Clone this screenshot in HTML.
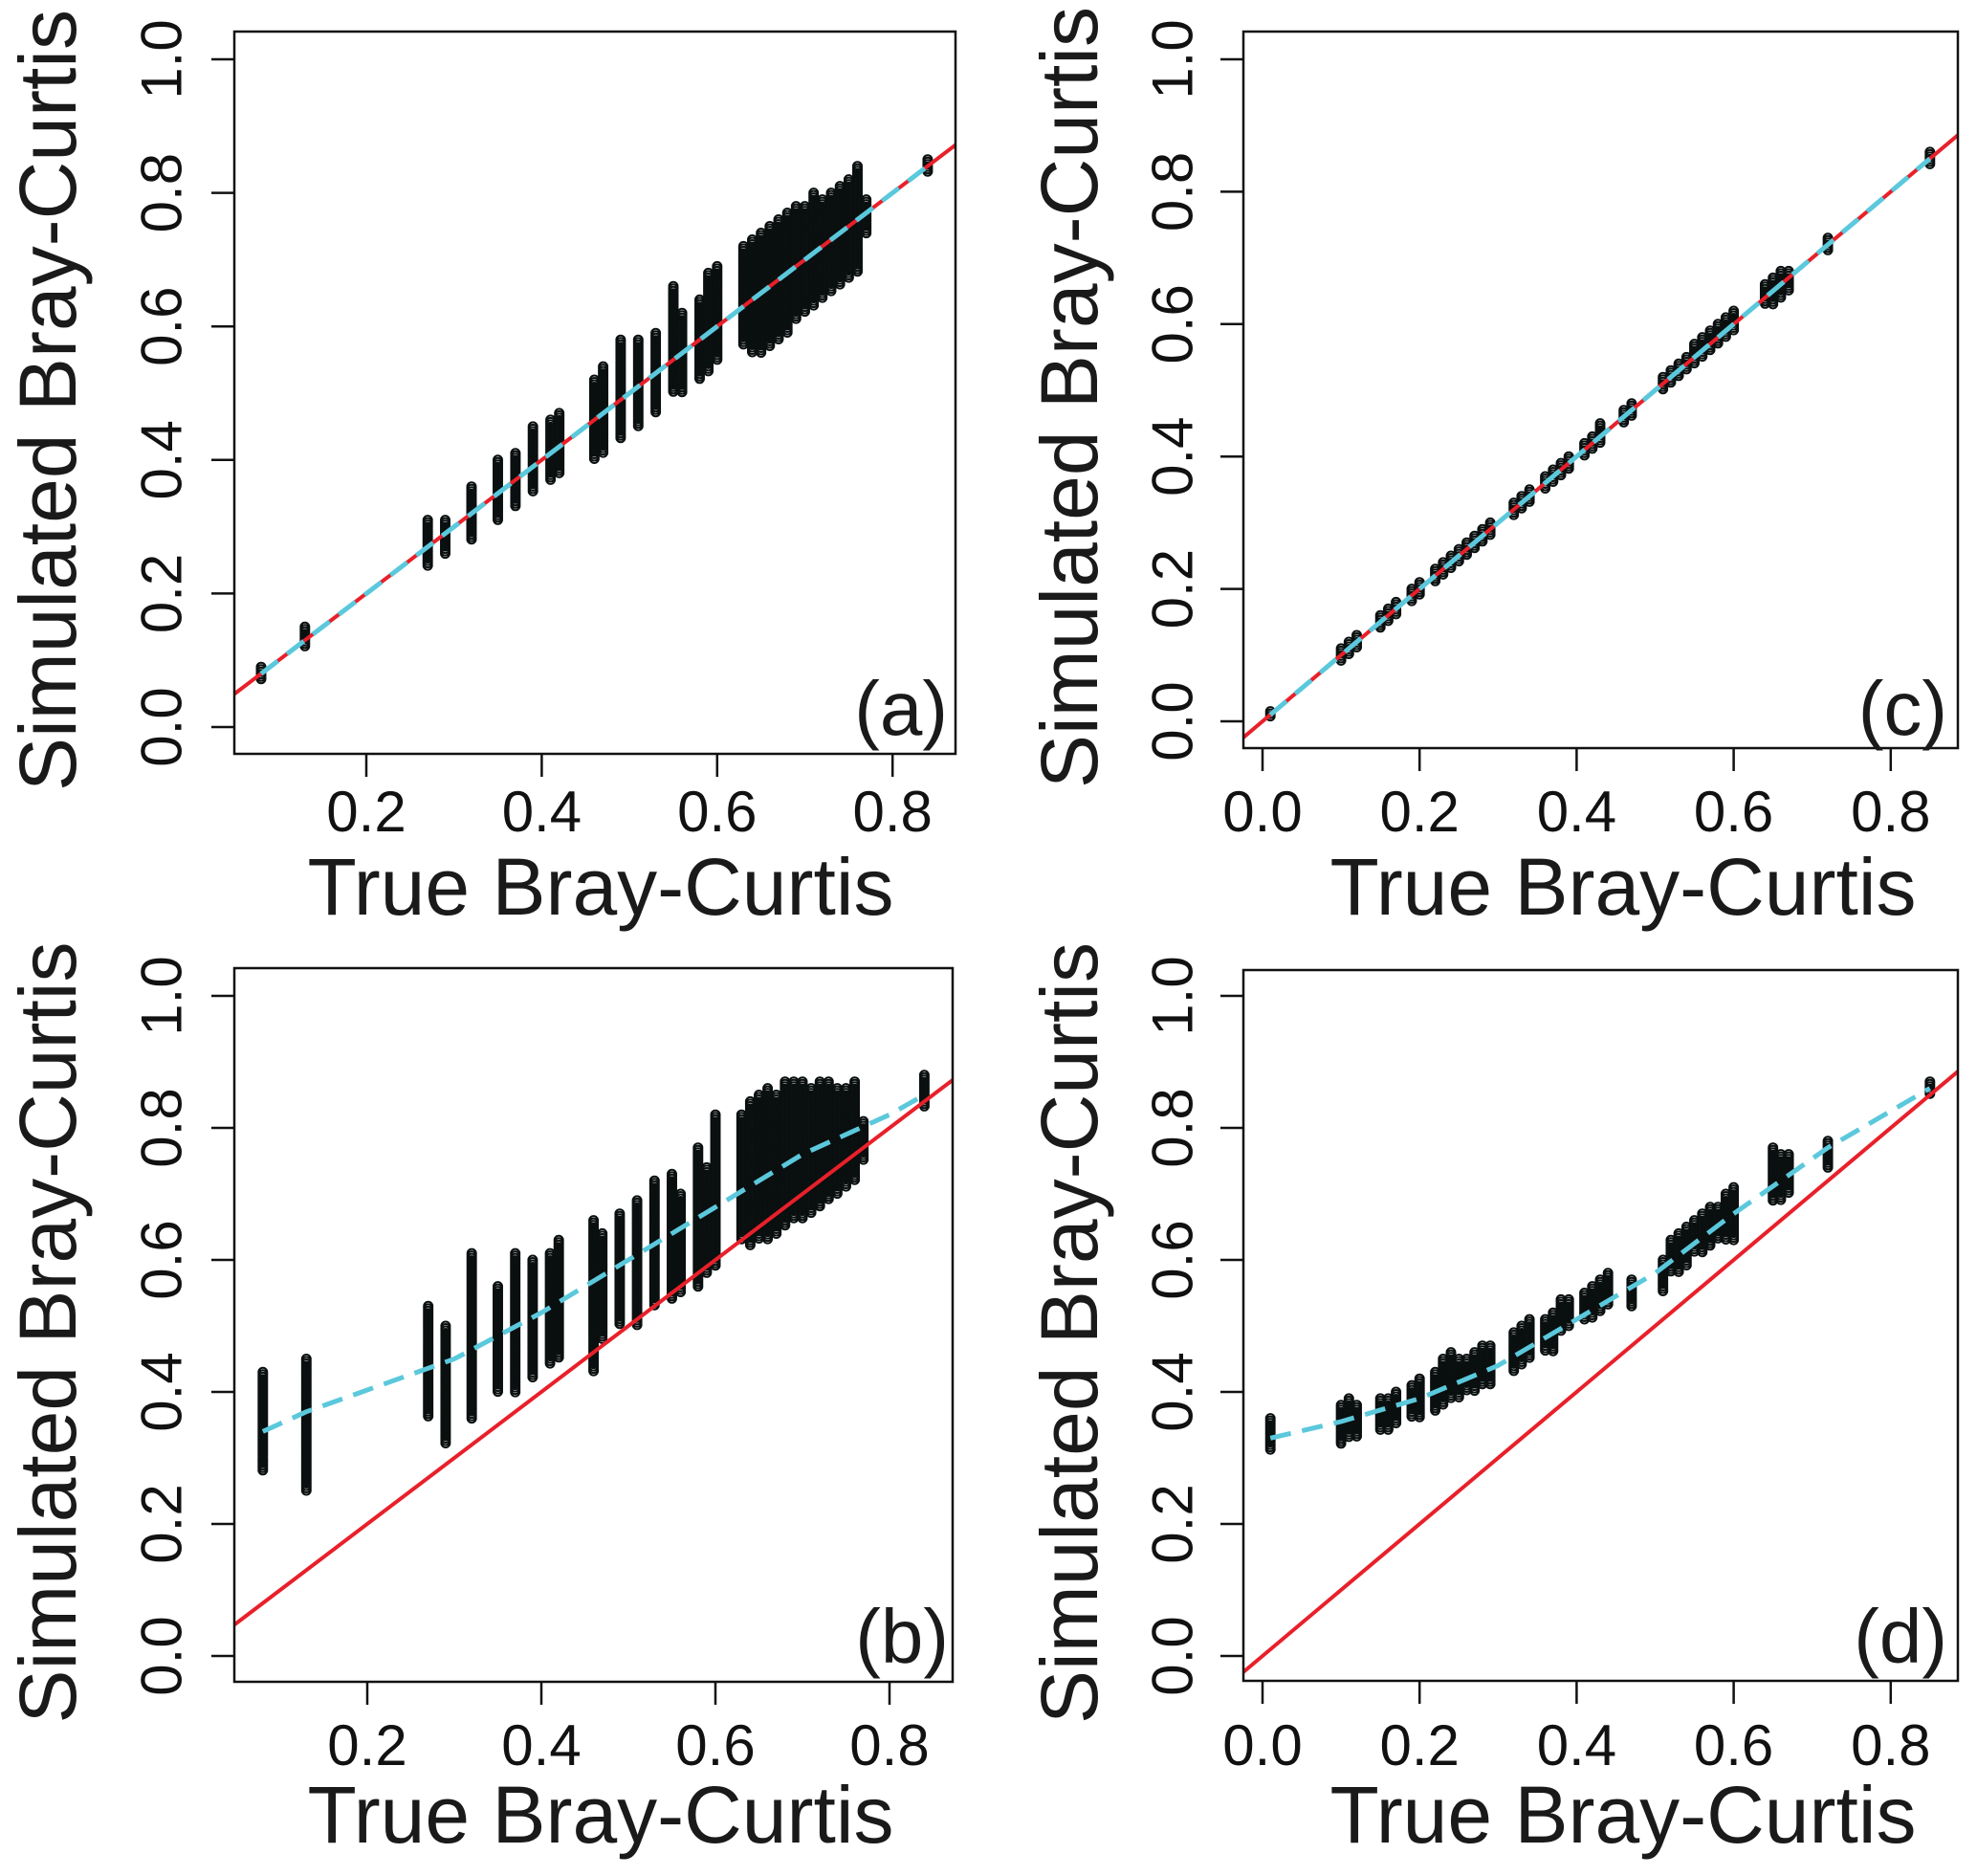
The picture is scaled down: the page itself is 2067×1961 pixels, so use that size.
<!DOCTYPE html>
<html><head><meta charset="utf-8"><style>
html,body{margin:0;padding:0;background:#fff;}
svg{display:block;font-family:"Liberation Sans",Arial,sans-serif;}
</style></head><body>
<svg id="fig" width="2067" height="1961" viewBox="0 0 2067 1961" xmlns="http://www.w3.org/2000/svg"></svg>
<script>
// ---- data ----
const yTicks = [0.0, 0.2, 0.4, 0.6, 0.8, 1.0];
const yTickLabels = ["0.0", "0.2", "0.4", "0.6", "0.8", "1.0"];
const xTicksAB = [0.2, 0.4, 0.6, 0.8];
const xTickLabelsAB = ["0.2", "0.4", "0.6", "0.8"];
const xTicksCD = [0.0, 0.2, 0.4, 0.6, 0.8];
const xTickLabelsCD = ["0.0", "0.2", "0.4", "0.6", "0.8"];

const aX =   [0.08,0.13,0.27,0.29,0.32,0.35,0.37,0.39,0.41,0.42,0.46,0.47,0.49,0.51,0.53,0.55,0.56,0.58,0.59,0.60,0.63,0.64,0.65,0.66,0.67,0.68,0.69,0.70,0.71,0.72,0.73,0.74,0.75,0.76,0.77,0.84];
const aMin = [0.07,0.12,0.24,0.26,0.28,0.31,0.33,0.35,0.37,0.38,0.40,0.41,0.43,0.45,0.47,0.50,0.50,0.52,0.53,0.55,0.57,0.56,0.56,0.57,0.58,0.59,0.61,0.62,0.63,0.64,0.65,0.66,0.67,0.68,0.74,0.83];
const aMax = [0.09,0.15,0.31,0.31,0.36,0.40,0.41,0.45,0.46,0.47,0.52,0.54,0.58,0.58,0.59,0.66,0.62,0.64,0.68,0.69,0.72,0.73,0.74,0.75,0.76,0.77,0.78,0.78,0.80,0.79,0.80,0.81,0.82,0.84,0.79,0.85];
const aFitX = [0.08, 0.84];
const aFitY = [0.08, 0.84];

const bX =   [0.08,0.13,0.27,0.29,0.32,0.35,0.37,0.39,0.41,0.42,0.46,0.47,0.49,0.51,0.53,0.55,0.56,0.58,0.59,0.60,0.63,0.64,0.65,0.66,0.67,0.68,0.69,0.70,0.71,0.72,0.73,0.74,0.75,0.76,0.77,0.84];
const bMin = [0.28,0.25,0.36,0.32,0.36,0.40,0.40,0.42,0.44,0.45,0.43,0.48,0.50,0.50,0.53,0.54,0.55,0.56,0.58,0.59,0.63,0.62,0.63,0.63,0.64,0.65,0.66,0.66,0.67,0.68,0.69,0.70,0.71,0.72,0.75,0.83];
const bMax = [0.43,0.45,0.53,0.50,0.61,0.56,0.61,0.60,0.61,0.63,0.66,0.64,0.67,0.69,0.72,0.73,0.70,0.77,0.74,0.82,0.82,0.84,0.85,0.86,0.85,0.87,0.87,0.87,0.86,0.87,0.87,0.86,0.86,0.87,0.81,0.88];
const bFitX = [0.08,0.13,0.30,0.40,0.50,0.60,0.70,0.80,0.84];
const bFitY = [0.34,0.37,0.45,0.52,0.60,0.68,0.76,0.82,0.85];

const cX =   [0.01,0.10,0.11,0.12,0.15,0.16,0.17,0.19,0.20,0.22,0.23,0.24,0.25,0.26,0.27,0.28,0.29,0.32,0.33,0.34,0.36,0.37,0.38,0.39,0.41,0.42,0.43,0.46,0.47,0.51,0.52,0.53,0.54,0.55,0.56,0.57,0.58,0.59,0.60,0.64,0.65,0.66,0.67,0.72,0.85];
const cMin = [0.005,0.09,0.10,0.11,0.14,0.15,0.16,0.18,0.19,0.21,0.22,0.23,0.24,0.25,0.26,0.27,0.28,0.31,0.32,0.33,0.35,0.36,0.37,0.38,0.40,0.41,0.42,0.45,0.46,0.50,0.51,0.52,0.53,0.54,0.55,0.56,0.57,0.58,0.59,0.63,0.63,0.64,0.65,0.71,0.84];
const cMax = [0.015,0.11,0.12,0.13,0.16,0.17,0.18,0.20,0.21,0.23,0.24,0.25,0.26,0.27,0.28,0.29,0.30,0.33,0.34,0.35,0.37,0.38,0.39,0.40,0.42,0.43,0.45,0.47,0.48,0.52,0.53,0.54,0.55,0.57,0.58,0.59,0.60,0.61,0.62,0.66,0.67,0.68,0.68,0.73,0.86];
const cFitX = [0.01, 0.85];
const cFitY = [0.01, 0.85];

const dX =   [0.01,0.10,0.11,0.12,0.15,0.16,0.17,0.19,0.20,0.22,0.23,0.24,0.25,0.26,0.27,0.28,0.29,0.32,0.33,0.34,0.36,0.37,0.38,0.39,0.41,0.42,0.43,0.44,0.47,0.51,0.52,0.53,0.54,0.55,0.56,0.57,0.58,0.59,0.60,0.65,0.66,0.67,0.72,0.85];
const dMin = [0.31,0.32,0.33,0.33,0.34,0.34,0.35,0.36,0.36,0.37,0.38,0.39,0.39,0.40,0.40,0.41,0.41,0.43,0.44,0.45,0.46,0.46,0.49,0.50,0.51,0.51,0.52,0.53,0.53,0.55,0.58,0.58,0.59,0.61,0.61,0.62,0.63,0.63,0.63,0.69,0.69,0.70,0.74,0.85];
const dMax = [0.36,0.38,0.39,0.38,0.39,0.39,0.40,0.41,0.42,0.43,0.45,0.46,0.45,0.45,0.46,0.47,0.47,0.49,0.50,0.51,0.51,0.52,0.54,0.54,0.55,0.56,0.57,0.58,0.57,0.60,0.63,0.64,0.65,0.66,0.67,0.68,0.68,0.70,0.71,0.77,0.76,0.76,0.78,0.87];
const dFitX = [0.01,0.10,0.20,0.30,0.40,0.50,0.60,0.66,0.72,0.85];
const dFitY = [0.33,0.355,0.39,0.44,0.51,0.58,0.67,0.72,0.77,0.86];

// ---- layout ----
const NS = "http://www.w3.org/2000/svg";
const svg = document.getElementById('fig');
function mk(tag, attrs, parent) {
  const e = document.createElementNS(NS, tag);
  for (const k in attrs) e.setAttribute(k, attrs[k]);
  (parent || svg).appendChild(e);
  return e;
}
const panels = [
  {id:'a', L:245, R:999, T:33, B:788, xv:0.2, xp:383, xs:917, yp:760, ys:698, xs_:aX, mn:aMin, mx:aMax, fx:aFitX, fy:aFitY, xt:xTicksAB, xl:xTickLabelsAB, ylx:169, ytx:50, tcx:628, tickBase:869, titleBase:956, lab:'(a)', labX:991, labY:768},
  {id:'b', L:245, R:996, T:1012, B:1758, xv:0.2, xp:384, xs:910, yp:1731, ys:690, xs_:bX, mn:bMin, mx:bMax, fx:bFitX, fy:bFitY, xt:xTicksAB, xl:xTickLabelsAB, ylx:169, ytx:50, tcx:628, tickBase:1845, titleBase:1926, lab:'(b)', labX:992, labY:1738},
  {id:'c', L:1300, R:2047, T:33, B:782, xv:0, xp:1320, xs:821, yp:754, ys:692, xs_:cX, mn:cMin, mx:cMax, fx:cFitX, fy:cFitY, xt:xTicksCD, xl:xTickLabelsCD, ylx:1226, ytx:1118, tcx:1697, tickBase:869, titleBase:956, lab:'(c)', labX:2036, labY:768},
  {id:'d', L:1300, R:2047, T:1014, B:1757, xv:0, xp:1320, xs:821, yp:1731, ys:690, xs_:dX, mn:dMin, mx:dMax, fx:dFitX, fy:dFitY, xt:xTicksCD, xl:xTickLabelsCD, ylx:1226, ytx:1118, tcx:1697, tickBase:1845, titleBase:1926, lab:'(d)', labX:2036, labY:1738}
];

panels.forEach(p => {
  const X = v => p.xp + (v - p.xv) * p.xs;
  const Y = v => p.yp - v * p.ys;
  const g = mk('g', {});
  
  
  const cp = mk('clipPath', {id: 'clip-' + p.id}, g);
  mk('rect', {x:p.L, y:p.T, width:p.R-p.L, height:p.B-p.T}, cp);

  const pts = mk('g', {'clip-path':'url(#clip-'+p.id+')', fill:'none', stroke:'#0a0f0f', 'stroke-width':'2'}, g);
  
  
  for (let i = 0; i < p.xs_.length; i++) {
    const cx = X(p.xs_[i]);
    const y1 = Y(p.mx[i]), y2 = Y(p.mn[i]);
    for (let y = y1; y <= y2 + 0.1; y += 2.5) {
      const c = mk('circle', {cx: cx.toFixed(1), cy: y.toFixed(1), r: 4.5}, pts);
      
      
    }
  }
  const idl = mk('line', {x1:X(-0.1), y1:Y(-0.1), x2:X(1.1), y2:Y(1.1), stroke:'#e8202a', 'stroke-width':'4', 'clip-path':'url(#clip-'+p.id+')'}, g);
  
  
  const d = p.fx.map((v, i) => (i ? 'L' : 'M') + X(v).toFixed(1) + ' ' + Y(p.fy[i]).toFixed(1)).join(' ');
  const fl = mk('path', {d: d, fill:'none', stroke:'#5bc8dc', 'stroke-width':'5', 'stroke-dasharray':'22 12', 'clip-path':'url(#clip-'+p.id+')'}, g);
  
  

  const box = mk('rect', {x:p.L, y:p.T, width:p.R-p.L, height:p.B-p.T, fill:'none', stroke:'#111', 'stroke-width':'2.5'}, g);
  
  

  yTicks.forEach((v, i) => {
    const y = Y(v);
    const t = mk('line', {x1:p.L-24, y1:y, x2:p.L, y2:y, stroke:'#111', 'stroke-width':'2.5'}, g);
    
    
    const tx = mk('text', {x:p.ylx, y:y, 'font-size':'60', fill:'#111', 'text-anchor':'middle', 'dominant-baseline':'central', transform:'rotate(-90 '+p.ylx+' '+y+')'}, g);
    tx.textContent = yTickLabels[i];
    
    
  });
  p.xt.forEach((v, i) => {
    const x = X(v);
    const t = mk('line', {x1:x, y1:p.B, x2:x, y2:p.B+24, stroke:'#111', 'stroke-width':'2.5'}, g);
    
    
    const tx = mk('text', {x:x, y:p.tickBase, 'font-size':'60', fill:'#111', 'text-anchor':'middle'}, g);
    tx.textContent = p.xl[i];
    
    
  });
  const xt = mk('text', {x:p.tcx, y:p.titleBase, 'font-size':'84', fill:'#1a1a1a', 'text-anchor':'middle'}, g);
  xt.textContent = 'True Bray-Curtis';
  
  
  const ycy = (p.T + p.B) / 2 + 8;
  const yt = mk('text', {x:p.ytx, y:ycy, 'font-size':'84', fill:'#1a1a1a', 'text-anchor':'middle', 'dominant-baseline':'central', transform:'rotate(-90 '+p.ytx+' '+ycy+')'}, g);
  yt.textContent = 'Simulated Bray-Curtis';
  
  
  const lb = mk('text', {x:p.labX, y:p.labY, 'font-size':'80', fill:'#1a1a1a', 'text-anchor':'end'}, g);
  lb.textContent = p.lab;
  
  
});
</script>
</body></html>
